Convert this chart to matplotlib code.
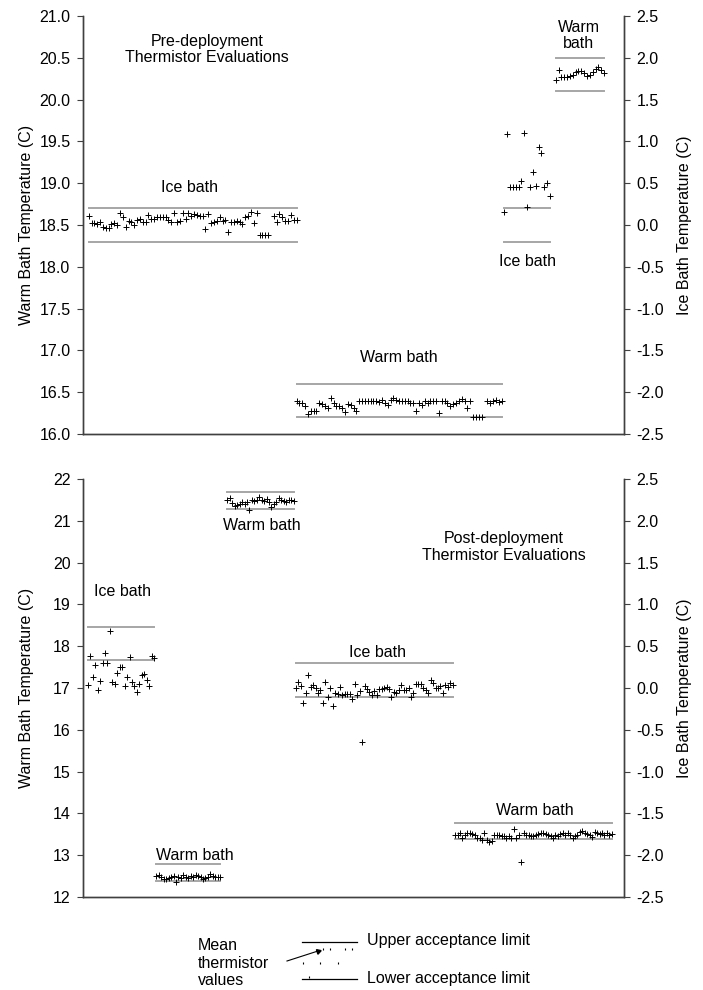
import numpy as np
import matplotlib.pyplot as plt
from matplotlib.lines import Line2D

plt.rcParams['font.family'] = ['Liberation Sans', 'DejaVu Sans']
plt.rcParams['axes.unicode_minus'] = False

# ---- pre-deployment (top) ----
# ice bath values in ice bath temperature (right axis), warm bath in warm bath temperature (left axis)
pre_ice1 = [0.11, 0.02, 0.02, 0.01, 0.03, -0.02, -0.04, -0.04, 0.01, 0.02,
            0.0, 0.14, 0.09, -0.02, 0.05, 0.04, 0.0, 0.06, 0.07, 0.03,
            0.04, 0.12, 0.07, 0.07, 0.09, 0.09, 0.09, 0.09, 0.06, 0.04,
            0.14, 0.03, 0.05, 0.14, 0.07, 0.14, 0.11, 0.13, 0.12, 0.11,
            0.11, -0.05, 0.13, 0.02, 0.04, 0.05, 0.10, 0.05, 0.06, -0.08,
            0.04, 0.04, 0.05, 0.03, 0.01, 0.09, 0.11, 0.16, 0.02, 0.14,
            -0.12, -0.12, -0.12, -0.12, np.nan, 0.11, 0.04, 0.13, 0.10, 0.05,
            0.05, 0.12, 0.06, 0.06]
pre_warm1 = [16.39, 16.37, 16.37, 16.34, 16.24, 16.27, 16.27, 16.27, 16.37, 16.36,
             16.33, 16.31, 16.43, 16.37, 16.33, 16.33, 16.31, 16.26, 16.36, 16.35,
             16.31, 16.27, 16.40, 16.40, 16.40, 16.40, 16.40, 16.40, 16.40, 16.38,
             16.41, 16.37, 16.35, 16.41, 16.43, 16.41, 16.40, 16.40, 16.40, 16.39,
             16.37, 16.37, 16.28, 16.37, 16.35, 16.39, 16.37, 16.39, 16.39, 16.39,
             16.25, 16.39, 16.39, 16.37, 16.33, 16.36, 16.37, 16.39, 16.42, 16.39,
             16.31, 16.39, 16.20, 16.20, 16.20, 16.20, np.nan, 16.39, 16.37, 16.40,
             16.41, 16.38, 16.39]
pre_ice2 = [0.16, 1.085, 0.46, 0.46, 0.46, 0.46, 0.53, 1.10, 0.21, 0.46,
            0.63, 0.47, 0.93, 0.86, 0.45, 0.50, 0.35]
pre_warm2 = [20.23, 20.36, 20.27, 20.27, 20.27, 20.28, 20.29, 20.33, 20.34, 20.34,
             20.32, 20.28, 20.29, 20.33, 20.37, 20.39, 20.35, 20.32]

pre_groups = [  # (values, start sample, on ice axis, lower, upper)
    (pre_ice1, 2, True, -0.2, 0.2),
    (pre_warm1, 75, False, 16.2, 16.6),
    (pre_ice2, 148, True, -0.2, 0.2),
    (pre_warm2, 166, False, 20.1, 20.5),
]

# ---- post-deployment (bottom) ----
post_ice1 = [0.03, 0.385, 0.135, 0.275, -0.025, 0.085, 0.295, 0.415, 0.305, 0.685,
             0.07, 0.05, 0.175, 0.255, 0.25, 0.02, 0.13, 0.365, 0.07, 0.025,
             -0.045, 0.045, 0.15, 0.165, 0.10, 0.025, 0.385, 0.36]
post_warm1 = [12.50, 12.52, 12.47, 12.44, 12.42, 12.45, 12.47, 12.50, 12.36, 12.48,
              12.46, 12.52, 12.49, 12.46, 12.51, 12.47, 12.53, 12.50, 12.48, 12.44,
              12.46, 12.49, 12.54, 12.50, 12.47, 12.49, 12.48]
post_warm2 = [21.50, 21.54, 21.42, 21.35, 21.38, 21.40, 21.46, 21.40, 21.44, 21.27,
              21.50, 21.48, 21.50, 21.58, 21.50, 21.48, 21.51, 21.46, 21.32, 21.40,
              21.46, 21.54, 21.50, 21.48, 21.46, 21.50, 21.50, 21.48]
post_ice2 = [0.00, 0.075, 0.025, -0.175, -0.065, 0.155, 0.01, 0.035, -0.005, -0.065,
             -0.025, -0.175, 0.075, -0.11, -0.005, -0.215, -0.055, -0.07, 0.01, -0.085,
             -0.07, -0.07, -0.07, -0.135, 0.045, -0.085, -0.03, -0.64, 0.025, -0.015,
             -0.045, -0.085, -0.03, -0.085, -0.015, -0.015, -0.005, 0.01, -0.015, -0.11,
             -0.045, -0.055, -0.025, 0.035, -0.025, -0.025, -0.005, -0.11, -0.065, 0.05,
             0.05, 0.05, -0.005, -0.025, -0.055, 0.09, 0.055, -0.005, -0.005, 0.025,
             -0.055, 0.035, 0.01, 0.06, 0.03]
post_warm3 = [13.48, 13.48, 13.52, 13.40, 13.48, 13.52, 13.54, 13.50, 13.48, 13.42,
              13.40, 13.36, 13.54, 13.36, 13.32, 13.34, 13.48, 13.48, 13.48, 13.46,
              13.46, 13.42, 13.46, 13.42, 13.62, 13.42, 13.48, 12.84, 13.52, 13.48,
              13.48, 13.46, 13.46, 13.48, 13.50, 13.52, 13.52, 13.50, 13.48, 13.46,
              13.42, 13.48, 13.46, 13.50, 13.54, 13.48, 13.52, 13.48, 13.40, 13.46,
              13.48, 13.56, 13.58, 13.54, 13.50, 13.48, 13.44, 13.56, 13.54, 13.50,
              13.54, 13.48, 13.52, 13.48, 13.50]

post_groups = [
    (post_ice1, 2, True, 0.335, 0.725),
    (post_warm1, 30, False, 12.39, 12.78),
    (post_warm2, 59, False, 21.29, 21.68),
    (post_ice2, 87, True, -0.105, 0.295),
    (post_warm3, 152, False, 13.39, 13.78),
]

W, H = 703, 990
FS = 11.5
fig = plt.figure(figsize=(W / 100, H / 100), dpi=100)


def fx(px):
    return px / W


def fy(py):
    return 1 - py / H


lim_col = '#a6a6a6'
ax_col = '#404040'


def setup(ax, ax2, ylim, yticks, fmt, ylim2):
    for a in (ax, ax2):
        a.spines['top'].set_visible(False)
        for s in ('left', 'right', 'bottom'):
            a.spines[s].set_color(ax_col)
            a.spines[s].set_linewidth(1.0)
        a.tick_params(axis='y', direction='out', length=4, width=0.8, colors='black',
                      labelsize=FS, pad=5)
        a.tick_params(axis='y', color=ax_col)
    ax.set_xticks([])
    ax.set_ylim(*ylim)
    ax.set_yticks(yticks)
    ax.set_yticklabels([fmt.format(v) for v in yticks])
    r = np.arange(-2.5, 2.51, 0.5)
    ax2.set_ylim(*ylim2)
    ax2.set_yticks(r)
    ax2.set_yticklabels(['{:.1f}'.format(v) for v in r])
    ax.set_ylabel('Warm Bath Temperature (C)', fontsize=FS)
    ax2.set_ylabel('Ice Bath Temperature (C)', fontsize=FS)
    ax.yaxis.set_label_coords(-0.0906, 0.5)
    ax2.yaxis.set_label_coords(1.098, 0.5)


def draw(ax, ax2, groups):
    for vals, start, ice, lo, hi in groups:
        a = ax2 if ice else ax
        x = start + np.arange(len(vals))
        a.plot([x[0], x[-1]], [hi, hi], color=lim_col, lw=1.4, zorder=1)
        a.plot([x[0], x[-1]], [lo, lo], color=lim_col, lw=1.4, zorder=1)
        a.plot(x, vals, ls='none', marker='+', ms=4.5, mew=0.7, color='black', zorder=3)


# top panel
ax1 = fig.add_axes([fx(83), fy(434), fx(624 - 83), (434 - 16) / H])
ax1b = ax1.twinx()
ax1.set_xlim(0, 190)
setup(ax1, ax1b, (16, 21), np.arange(16, 21.01, 0.5), '{:.1f}', (-2.5, 2.5))
draw(ax1, ax1b, pre_groups)
tk = dict(fontsize=FS, ha='center', va='center')
ax1.text(43.5, 20.60, 'Pre-deployment\nThermistor Evaluations', linespacing=1.15, **tk)
ax1.text(37.5, 18.95, 'Ice bath', **tk)
ax1.text(111, 16.92, 'Warm bath', **tk)
ax1.text(156, 18.06, 'Ice bath', **tk)
ax1.text(174, 20.77, 'Warm\nbath', linespacing=1.05, **tk)

# bottom panel
ax2 = fig.add_axes([fx(83), fy(897), fx(624 - 83), (897 - 479) / H])
ax2b = ax2.twinx()
ax2.set_xlim(0, 221)
setup(ax2, ax2b, (12, 22), np.arange(12, 22.1, 1), '{:.0f}', (-2.5, 2.5))
draw(ax2, ax2b, post_groups)
ax2.text(172, 20.37, 'Post-deployment\nThermistor Evaluations', linespacing=1.15, **tk)
ax2.text(16.3, 19.32, 'Ice bath', **tk)
ax2.text(73, 20.88, 'Warm bath', **tk)
ax2.text(120.4, 17.86, 'Ice bath', **tk)
ax2.text(45.7, 13.0, 'Warm bath', **tk)
ax2.text(184.5, 14.08, 'Warm bath', **tk)

# key below the plots
fig.text(fx(198), fy(963), 'Mean\nthermistor\nvalues', fontsize=FS, ha='left', va='center',
         linespacing=1.2)
for yy, lab in ((942, 'Upper acceptance limit'), (979, 'Lower acceptance limit')):
    fig.add_artist(Line2D([fx(302), fx(357)], [fy(yy), fy(yy)], color='black', lw=0.9))
    fig.text(fx(367), fy(yy - 1), lab, fontsize=FS, ha='left', va='center')
key_x = [323, 330, 345, 352, 303, 320, 338, 309]
key_y = [949, 949, 949, 949, 963, 963, 963, 977]
fig.add_artist(Line2D([fx(v) for v in key_x], [fy(v) for v in key_y], ls='none',
                      marker='|', ms=2, mew=0.8, color='black'))
fig.add_artist(Line2D([fx(287), fx(318)], [fy(961), fy(951)], color='black', lw=0.8))
fig.add_artist(Line2D([fx(318)], [fy(951)], marker=(3, 0, -72), ms=4, color='black', ls='none'))

fig.savefig('out.png', dpi=100)
